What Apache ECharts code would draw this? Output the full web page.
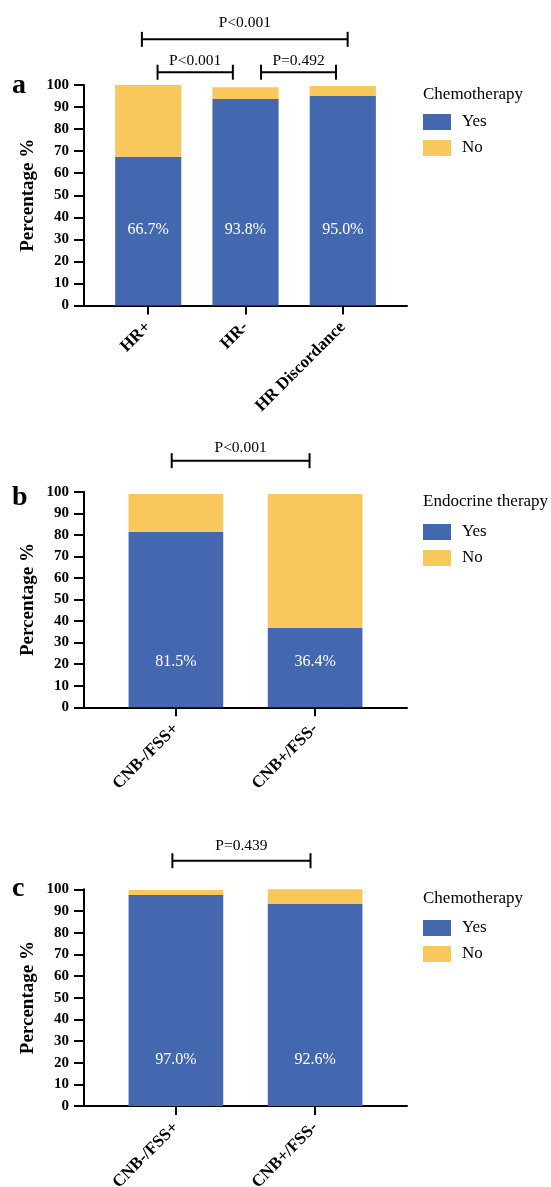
<!DOCTYPE html>
<html><head><meta charset="utf-8">
<script src="https://cdn.jsdelivr.net/npm/echarts@6/dist/echarts.min.js"></script>
<style>html,body{margin:0;padding:0;background:#fff}#c{width:551px;height:1187px}</style>
</head><body><div id="c"></div>
<script>
// ---- data ----
const catsA = ['HR+', 'HR-', 'HR Discordance'];
const yesA = [67.5, 93.7, 95.0];
const noA = [32.5, 5.3, 4.5];
const lblA = ['66.7%', '93.8%', '95.0%'];

const catsB = ['CNB-/FSS+', 'CNB+/FSS-'];
const yesB = [81.4, 36.8];
const noB = [17.5, 62.1];
const lblB = ['81.5%', '36.4%'];

const catsC = ['CNB-/FSS+', 'CNB+/FSS-'];
const yesC = [97.4, 93.2];
const noC = [2.3, 6.9];
const lblC = ['97.0%', '92.6%'];

const legendTitles = ['Chemotherapy', 'Endocrine therapy', 'Chemotherapy'];
const panelLetters = ['a', 'b', 'c'];
const seriesNames = ['Yes', 'No'];

// significance brackets: [from category pos, to category pos, level (axis units), text]
const bracketsA = [[-0.065, 2.05, 120.7, 'P<0.001'], [0.096, 0.87, 105.8, 'P<0.001'], [1.16, 1.93, 105.8, 'P=0.492']];
const bracketsB = [[-0.03, 0.96, 114.4, 'P<0.001']];
const bracketsC = [[-0.025, 0.967, 113.2, 'P=0.439']];

// ---- layout ----
const SERIF = '"Liberation Serif", "Times New Roman", serif';
const BLUE = '#4468B0', YELLOW = '#F9C85C';
const panels = [
  {cats: catsA, yes: yesA, no: noA, lbl: lblA, br: bracketsA, top: 85, height: 220.5, labelDist: 67.5, titleTop: 86.5, legendTop: 113.5, letterY: 86, txtOff: [16.6, 11.6, 11.6]},
  {cats: catsB, yes: yesB, no: noB, lbl: lblB, br: bracketsB, top: 491.7, height: 215.6, labelDist: 37.6, titleTop: 493, legendTop: 523.5, letterY: 498, txtOff: [12.4]},
  {cats: catsC, yes: yesC, no: noC, lbl: lblC, br: bracketsC, top: 889.3, height: 216.7, labelDist: 38, titleTop: 890.5, legendTop: 919.5, letterY: 889, txtOff: [14.7]}
];
const FRAME_LEFT = 84, FRAME_W = 323, PAD = 0.66;

const chart = echarts.init(document.getElementById('c'), null, {renderer: 'canvas'});
const option = {
  animation: false,
  backgroundColor: '#fff',
  title: [], legend: [], grid: [], xAxis: [], yAxis: [], series: []
};
const axisFont = {fontFamily: SERIF, fontWeight: 'bold', color: '#000'};
panels.forEach((p, i) => {
  const n = p.cats.length;
  const unit = FRAME_W / (n - 1 + 2 * PAD);
  const fg = 2 * i, bg = 2 * i + 1;
  // frame grid: visible y axis + full-length x axis line
  option.grid.push({left: FRAME_LEFT, top: p.top, width: FRAME_W, height: p.height, outerBoundsMode: 'none'});
  // bar grid: category band layout
  option.grid.push({left: FRAME_LEFT + (PAD - 0.5) * unit, top: p.top, width: n * unit, height: p.height, outerBoundsMode: 'none'});
  option.xAxis.push({
    type: 'value', gridIndex: fg, min: 0, max: 1,
    splitLine: {show: false}, axisTick: {show: false}, axisLabel: {show: false},
    axisLine: {show: true, onZero: false, lineStyle: {color: '#000', width: 2}}
  });
  option.xAxis.push({
    type: 'category', gridIndex: bg, data: p.cats,
    axisLine: {show: false},
    axisTick: {show: true, alignWithLabel: true, length: 9, lineStyle: {color: '#000', width: 2}},
    axisLabel: Object.assign({show: true, rotate: 45, margin: 19, interval: 0, fontSize: 17, hideOverlap: false}, axisFont)
  });
  option.yAxis.push({
    type: 'value', gridIndex: fg, min: 0, max: 100, interval: 10,
    name: 'Percentage %', nameLocation: 'middle', nameGap: 46, nameMoveOverlap: false,
    nameTextStyle: Object.assign({fontSize: 19}, axisFont),
    splitLine: {show: false},
    axisLine: {show: true, onZero: false, lineStyle: {color: '#000', width: 2}},
    axisTick: {show: true, length: 10, lineStyle: {color: '#000', width: 2}},
    axisLabel: Object.assign({margin: 15, fontSize: 15}, axisFont)
  });
  option.yAxis.push({
    type: 'value', gridIndex: bg, min: 0, max: 100, interval: 10, show: false
  });
  option.series.push({
    name: seriesNames[0], type: 'bar', xAxisIndex: bg, yAxisIndex: bg, stack: 's' + i,
    barWidth: '68%', itemStyle: {color: BLUE},
    data: p.yes,
    label: {show: true, position: 'insideBottom', distance: p.labelDist,
      formatter: q => p.lbl[q.dataIndex], color: '#fff', fontFamily: SERIF, fontSize: 16}
  });
  option.series.push({
    name: seriesNames[1], type: 'bar', xAxisIndex: bg, yAxisIndex: bg, stack: 's' + i,
    barWidth: '68%', itemStyle: {color: YELLOW},
    data: p.no
  });
  option.title.push({
    text: legendTitles[i], left: 423, top: p.titleTop, padding: 0,
    textStyle: {fontFamily: SERIF, fontSize: 17, fontWeight: 'normal', color: '#000'}
  });
  option.legend.push({
    orient: 'vertical', left: 423, top: p.legendTop, padding: 0,
    itemWidth: 28, itemHeight: 16, itemGap: 9, icon: 'rect', selectedMode: false,
    textStyle: {fontFamily: SERIF, fontSize: 17, color: '#000', padding: [0, 0, 0, 6]},
    data: seriesNames
  });
});
chart.setOption(option);

// brackets and panel letters
const g = [];
panels.forEach((p, i) => {
  const bg = 2 * i + 1;
  const c0 = chart.convertToPixel({xAxisIndex: bg, yAxisIndex: bg}, [0, 0]);
  const c1 = chart.convertToPixel({xAxisIndex: bg, yAxisIndex: bg}, [1, 0]);
  const step = c1[0] - c0[0];
  g.push({type: 'text', z: 10, style: {x: 12, y: p.letterY, text: panelLetters[i], fill: '#000',
    font: 'bold 28px ' + SERIF, textAlign: 'left', textVerticalAlign: 'middle'}});
  p.br.forEach((b, k) => {
    const y = chart.convertToPixel({yAxisIndex: bg}, b[2]);
    const xa = c0[0] + b[0] * step, xc = c0[0] + b[1] * step;
    const ls = {stroke: '#000', lineWidth: 2};
    g.push({type: 'line', z: 10, shape: {x1: xa, y1: y, x2: xc, y2: y}, style: ls});
    g.push({type: 'line', z: 10, shape: {x1: xa, y1: y - 7.5, x2: xa, y2: y + 7.5}, style: ls});
    g.push({type: 'line', z: 10, shape: {x1: xc, y1: y - 7.5, x2: xc, y2: y + 7.5}, style: ls});
    g.push({type: 'text', z: 10, style: {x: (xa + xc) / 2, y: y - p.txtOff[k], text: b[3], fill: '#000',
      font: '15.5px ' + SERIF, textAlign: 'center', textVerticalAlign: 'middle'}});
  });
});
chart.setOption({graphic: g});
</script>
</body></html>
